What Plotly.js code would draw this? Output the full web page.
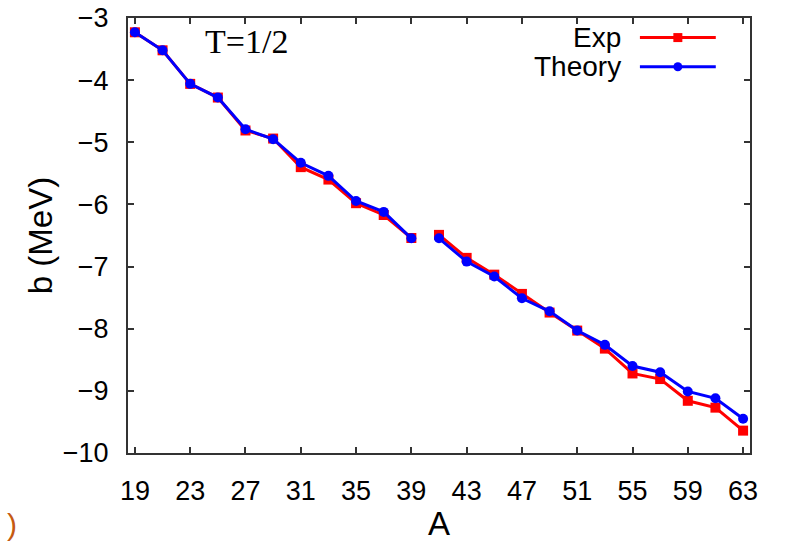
<!DOCTYPE html>
<html>
<head>
<meta charset="utf-8">
<script src="https://cdn.plot.ly/plotly-3.0.1.min.js"></script>
<style>html,body{margin:0;padding:0;background:#fff;}#chart{width:789px;height:544px;}</style>
</head>
<body>
<div id="chart"></div>
<script>
// Mass number A (null at 40 leaves the gap between 39 and 41)
const massA = [19, 21, 23, 25, 27, 29, 31, 33, 35, 37, 39, 40, 41, 43, 45, 47, 49, 51, 53, 55, 57, 59, 61, 63];
const expB = [-3.23, -3.52, -4.06, -4.28, -4.81, -4.94, -5.40, -5.60, -5.98, -6.17, -6.54, null,
              -6.49, -6.86, -7.13, -7.44, -7.74, -8.03, -8.32, -8.72, -8.81, -9.16, -9.27, -9.64];
const theoryB = [-3.23, -3.52, -4.06, -4.28, -4.79, -4.95, -5.33, -5.54, -5.945, -6.12, -6.545, null,
                 -6.545, -6.92, -7.16, -7.51, -7.72, -8.03, -8.26, -8.60, -8.70, -9.01, -9.12, -9.45];
const seriesNames = ["Exp", "Theory"];
const xTicks = [19, 23, 27, 31, 35, 39, 43, 47, 51, 55, 59, 63];
const yTicks = [-3, -4, -5, -6, -7, -8, -9, -10];

const red = "#ff0000", blue = "#0000ff";
const data = [
  {x: massA, y: expB, name: seriesNames[0], mode: "lines+markers", connectgaps: false,
   line: {color: red, width: 3}, marker: {symbol: "square", size: 10, color: red}},
  {x: massA, y: theoryB, name: seriesNames[1], mode: "lines+markers", connectgaps: false,
   line: {color: blue, width: 3}, marker: {symbol: "circle", size: 10, color: blue}}
];

const font = "Liberation Sans, Arial, sans-serif";
const legX0 = 0.823, legX1 = 0.945, legXm = 0.884, legY = [0.955, 0.888];
const shapes = [], annotations = [];
[red, blue].forEach((c, i) => {
  shapes.push({type: "line", xref: "paper", yref: "paper", x0: legX0, x1: legX1, y0: legY[i], y1: legY[i],
               line: {color: c, width: 3}});
  shapes.push({type: i === 0 ? "rect" : "circle", xref: "paper", yref: "paper",
               xsizemode: "pixel", ysizemode: "pixel", xanchor: legXm, yanchor: legY[i],
               x0: -4.5, x1: 4.5, y0: -4.5, y1: 4.5, fillcolor: c, line: {width: 0}});
  annotations.push({text: seriesNames[i], xref: "paper", yref: "paper", x: 0.796, y: legY[i],
                    xanchor: "right", yanchor: "middle", showarrow: false,
                    font: {family: font, size: 28, color: "#000"}});
});
annotations.push({text: "T=1/2", xref: "paper", yref: "paper", x: 0.12, y: 0.945,
                  xanchor: "left", yanchor: "middle", showarrow: false,
                  font: {family: "Liberation Serif, Times New Roman, serif", size: 34, color: "#000"}});
annotations.push({text: ")", xref: "paper", yref: "paper", x: -0.198, y: -0.165,
                  xanchor: "left", yanchor: "middle", showarrow: false,
                  font: {family: font, size: 30, color: "#c55a11"}});

const layout = {
  width: 789, height: 544,
  margin: {l: 128, r: 39, t: 18, b: 91},
  paper_bgcolor: "#fff", plot_bgcolor: "#fff",
  showlegend: false,
  font: {family: font, color: "#000"},
  xaxis: {
    range: [18.5, 63.5], tickvals: xTicks, ticktext: xTicks.map(String),
    showgrid: false, zeroline: false, showline: true, mirror: "ticks",
    linecolor: "#333", linewidth: 2, ticks: "inside", ticklen: 6, tickcolor: "#333", tickwidth: 2,
    tickfont: {family: font, size: 27}, ticklabelstandoff: 13,
    title: {text: "A", font: {family: font, size: 33}, standoff: 6}
  },
  yaxis: {
    range: [-10, -3], tickvals: yTicks, ticktext: yTicks.map(v => "\u2212" + Math.abs(v)),
    showgrid: false, zeroline: false, showline: true, mirror: "ticks",
    linecolor: "#333", linewidth: 2, ticks: "inside", ticklen: 6, tickcolor: "#333", tickwidth: 2,
    tickfont: {family: font, size: 27}, ticklabelstandoff: 12,
    title: {text: "b (MeV)", font: {family: font, size: 33}, standoff: 0}
  },
  shapes: shapes,
  annotations: annotations
};

Plotly.newPlot("chart", data, layout, {displayModeBar: false, staticPlot: true});
</script>
</body>
</html>
